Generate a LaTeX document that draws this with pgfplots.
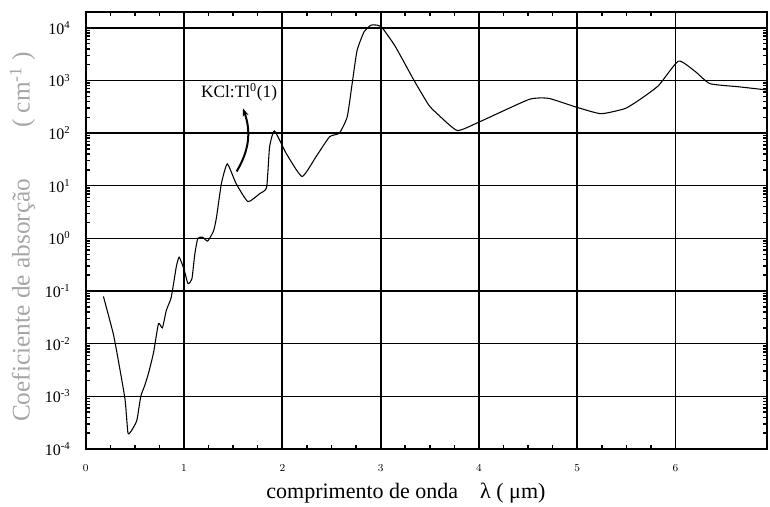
\documentclass[border=0pt]{standalone}
\usepackage{pgfplots}
\pgfplotsset{compat=1.18}
\usepackage{fontspec}
\setmainfont{Liberation Serif}
\usetikzlibrary{arrows.meta}
\pgfplotstableread{
x y
0.18 0.079
0.28 0.0155
0.33 0.0050
0.40 0.00087
0.43 0.00020
0.47 0.00023
0.52 0.00035
0.56 0.0010
0.60 0.0016
0.64 0.0028
0.69 0.0068
0.74 0.024
0.78 0.020
0.82 0.043
0.87 0.076
0.92 0.28
0.95 0.44
1.00 0.26
1.04 0.138
1.08 0.17
1.11 0.51
1.14 1.0
1.19 1.05
1.24 0.89
1.30 1.38
1.33 2.5
1.38 11
1.44 26
1.53 11
1.65 5.0
1.77 7.1
1.84 9.3
1.87 54
1.92 110
2.04 41
2.20 15
2.34 35
2.48 85
2.58 100
2.66 204
2.71 870
2.76 3700
2.83 8300
2.90 11200
2.97 11200
3.02 9800
3.15 4400
3.34 1000
3.49 340
3.59 220
3.78 112
4.00 162
4.51 437
4.71 457
4.98 316
5.24 234
5.49 295
5.67 480
5.83 813
6.03 2340
6.20 1480
6.35 870
6.64 760
6.93 660
}\absdata
\begin{document}
\begin{tikzpicture}
\begin{axis}[
  scale only axis, width=511pt, height=327.75pt,
  xmin=0, xmax=6.93,
  ymode=log, ymin=1e-4, ymax=2e4,
  xtick={0,1,2,3,4,5,6},
  minor x tick num=3,
  ytick={1e-4,1e-3,1e-2,1e-1,1,1e1,1e2,1e3,1e4},
  yticklabels={10\textsuperscript{-4},10\textsuperscript{-3},10\textsuperscript{-2},10\textsuperscript{-1},10\textsuperscript{0},10\textsuperscript{1},10\textsuperscript{2},10\textsuperscript{3},10\textsuperscript{4}},
  grid=major,
  major x grid style={black, line width=1.3pt},
  major y grid style={black, line width=1pt},
  axis line style={black, line width=1.5pt},
  tick align=inside,
  major tick length=4pt, minor tick length=3pt,
  every tick/.style={black, line width=1.1pt},
  xticklabel style={font=\fontsize{8.5}{10}\selectfont, yshift=-8pt},
  yticklabel style={font=\fontsize{12}{14}\selectfont, xshift=-8pt},
  xlabel={comprimento de onda\quad λ ( μm)},
  xlabel style={font=\fontsize{16.5}{19}\selectfont, at={(axis description cs:0.47,0)}, anchor=center, yshift=-33pt},
  ylabel={Coeficiente de absorção\qquad( cm\textsuperscript{-1} )},
  ylabel style={font=\fontsize{19}{22}\selectfont, text=black!35, at={(axis description cs:-0.093,0.485)}, anchor=center},
]
\addplot[black, line width=0.8pt, smooth, tension=0.3] table[x=x, y=y] {\absdata};
\node[font=\fontsize{13}{15}\selectfont] at (axis cs:1.56,600) {KCl:Tl\textsuperscript{0}(1)};
\draw[-{Stealth[length=6pt]}, line width=1.5pt] (axis cs:1.535,18.7) to[bend right=25] (axis cs:1.60,295);
\coordinate (sw) at (rel axis cs:0,0);
\coordinate (ne) at (rel axis cs:1,1);
\end{axis}
\pgfresetboundingbox
\path ([shift={(-64.3pt,-43.5pt)}]sw) rectangle ([shift={(2.25pt,9pt)}]ne);
\end{tikzpicture}
\end{document}
